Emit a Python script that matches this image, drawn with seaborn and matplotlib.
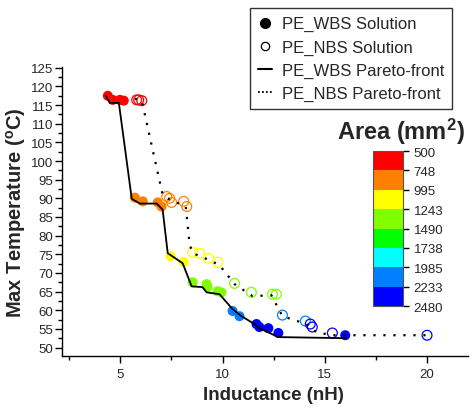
import numpy as np
import pandas as pd
import matplotlib
matplotlib.use("Agg")
import matplotlib.pyplot as plt
from matplotlib.colors import ListedColormap, BoundaryNorm
from matplotlib.lines import Line2D
import seaborn as sns

# ---------------- data ----------------
wbs_x = [4.39, 4.63, 4.98, 5.17, 5.71, 6.10, 6.83, 7.02, 7.46, 8.10,
         8.54, 9.22, 9.27, 9.76, 9.95, 10.49, 10.83, 11.66, 11.80, 12.24, 12.73, 16.0]
wbs_y = [117.5, 116.4, 116.4, 116.2, 90.2, 89.2, 88.9, 87.8, 74.5, 72.9,
         67.5, 67.0, 66.2, 65.1, 64.8, 59.8, 58.4, 56.3, 55.5, 55.2, 53.9, 53.3]
wbs_area = [600, 600, 600, 600, 870, 870, 870, 870, 1120, 1120,
            1370, 1370, 1370, 1370, 1370, 2100, 2100, 2350, 2350, 2350, 2350, 2350]

nbs_x = [5.80, 5.90, 6.05, 7.27, 7.41, 7.51, 8.10, 8.25, 8.54, 8.88, 9.32, 9.76,
         10.59, 11.41, 12.44, 12.63, 12.93, 14.05, 14.29, 14.39, 15.37, 20.0]
nbs_y = [116.4, 116.4, 116.2, 90.5, 90.0, 88.9, 89.2, 87.8, 75.5, 75.3, 73.9, 72.9,
         67.2, 64.8, 64.3, 64.3, 58.7, 57.1, 56.3, 55.5, 53.9, 53.3]
nbs_area = [620, 620, 620, 880, 880, 880, 880, 880, 1120, 1120, 1120, 1120,
            1370, 1370, 1370, 1370, 2100, 2100, 2350, 2350, 2350, 2350]

wbs_front_x = [4.29, 4.49, 4.93, 5.56, 5.95, 6.78, 7.07, 7.32, 8.05, 8.49, 9.02,
               9.22, 9.85, 10.49, 10.93, 11.56, 11.80, 12.73, 16.05]
wbs_front_y = [117.5, 115.6, 115.6, 89.9, 88.6, 88.6, 87.0, 75.3, 72.6, 66.4, 66.2,
               64.8, 64.3, 60.3, 58.4, 56.3, 55.2, 52.8, 52.5]

nbs_front_x = [5.71, 6.05, 7.07, 7.41, 8.20, 8.39, 8.54, 9.37, 9.85, 10.59, 11.46,
               12.39, 12.93, 14.10, 14.59, 15.37, 20.0]
nbs_front_y = [116.7, 116.2, 91.0, 89.7, 87.8, 77.7, 75.3, 73.4, 72.1, 67.0, 63.8,
               64.0, 58.4, 56.3, 54.1, 53.3, 53.3]

area_bounds = [500, 748, 995, 1243, 1490, 1738, 1985, 2233, 2480]
area_colors = ['#FF0000', '#FF8000', '#FFFF00', '#80FF00',
               '#00FF00', '#00FFFF', '#0080FF', '#0000FF']

legend_labels = ['PE_WBS Solution', 'PE_NBS Solution',
                 'PE_WBS Pareto-front', 'PE_NBS Pareto-front']

# ---------------- style ----------------
sns.set_theme(style="ticks")
plt.rcParams['font.family'] = ['Liberation Sans', 'DejaVu Sans']
plt.rcParams['mathtext.fontset'] = 'custom'
plt.rcParams['mathtext.rm'] = 'Liberation Sans:bold'
plt.rcParams['mathtext.it'] = 'Liberation Sans:bold'
plt.rcParams['mathtext.bf'] = 'Liberation Sans:bold'

cmap = ListedColormap(area_colors)
norm = BoundaryNorm(area_bounds, cmap.N)

def bin_label(a):
    return int(np.digitize([a], area_bounds)[0] - 1)

wbs = pd.DataFrame({'x': wbs_x, 'y': wbs_y,
                    'bin': [bin_label(a) for a in wbs_area]})
nbs = pd.DataFrame({'x': nbs_x, 'y': nbs_y,
                    'bin': [bin_label(a) for a in nbs_area]})
palette = {i: c for i, c in enumerate(area_colors)}

fig = plt.figure(figsize=(4.77, 4.10), dpi=100)
ax = fig.add_axes([0.130, 0.129, 0.851, 0.705])

sns.scatterplot(data=wbs, x='x', y='y', hue='bin', palette=palette, s=52,
                edgecolor='none', linewidth=0, legend=False, ax=ax, zorder=2)
sns.scatterplot(data=nbs, x='x', y='y', hue='bin', palette=palette, s=50,
                linewidth=0.9, legend=False, ax=ax, zorder=2)
pc = ax.collections[-1]
fcs = pc.get_facecolors()
pc.set_edgecolors(fcs)
pc.set_facecolors('none')

wf = pd.DataFrame({'x': wbs_front_x, 'y': wbs_front_y})
nf = pd.DataFrame({'x': nbs_front_x, 'y': nbs_front_y})
sns.lineplot(data=wf, x='x', y='y', sort=False, estimator=None, color='black',
             lw=1.3, ax=ax, zorder=3)
sns.lineplot(data=nf, x='x', y='y', sort=False, estimator=None, color='black',
             lw=1.6, linestyle=(0, (1, 3.5)), ax=ax, zorder=3)

ax.set_xlim(2.15, 22.0)
ax.set_ylim(47.7, 125.2)
ax.set_xticks([5, 10, 15, 20])
ax.set_xticks([2.5, 7.5, 12.5, 17.5], minor=True)
ax.set_yticks(np.arange(50, 126, 5))
ax.set_yticks(np.arange(52.5, 125, 5), minor=True)
ax.tick_params(axis='both', which='major', length=5, width=1, labelsize=9.5,
               color='black', direction='out')
ax.tick_params(axis='y', which='major', pad=1.5)
ax.tick_params(axis='both', which='minor', length=3, width=1, color='black',
               direction='out')
for s in ['left', 'bottom']:
    ax.spines[s].set_color('black')
    ax.spines[s].set_linewidth(1.0)
sns.despine(ax=ax)

ax.set_xlabel('Inductance (nH)', fontsize=13.5, fontweight='bold', labelpad=6)
ax.xaxis.set_label_coords(0.52, -0.105)
ax.set_ylabel('Max Temperature ($^o$C)', fontsize=14.5, fontweight='bold', labelpad=2)

# legend
handles = [
    Line2D([], [], marker='o', linestyle='none', color='black', markersize=7),
    Line2D([], [], marker='o', linestyle='none', markerfacecolor='none',
           markeredgecolor='black', markersize=6, markeredgewidth=0.9),
    Line2D([], [], color='black', lw=1.5),
    Line2D([], [], color='black', lw=1.3, linestyle=(0, (1, 1.2))),
]
leg = fig.legend(handles, legend_labels, loc='upper left',
                 bbox_to_anchor=(0.524, 0.978), frameon=True, fancybox=False,
                 edgecolor='black', fontsize=12, handlelength=0.8,
                 handletextpad=0.6, labelspacing=0.48, borderpad=0.5,
                 borderaxespad=0)
leg.get_frame().set_linewidth(1.0)

# colorbar
cax = fig.add_axes([0.782, 0.251, 0.063, 0.378])
sm = matplotlib.cm.ScalarMappable(cmap=cmap, norm=norm)
cb = fig.colorbar(sm, cax=cax, boundaries=area_bounds, ticks=area_bounds)
cb.ax.invert_yaxis()
cb.ax.set_yticklabels([str(b) for b in area_bounds])
cb.ax.tick_params(labelsize=9.5, length=4, width=1, color='black')
cb.outline.set_edgecolor('#555555')
cb.outline.set_linewidth(0.8)
fig.text(0.841, 0.679, 'Area (mm$^2$)', ha='center', va='center',
         fontsize=17, fontweight='bold')

fig.savefig('out.png', dpi=100)
